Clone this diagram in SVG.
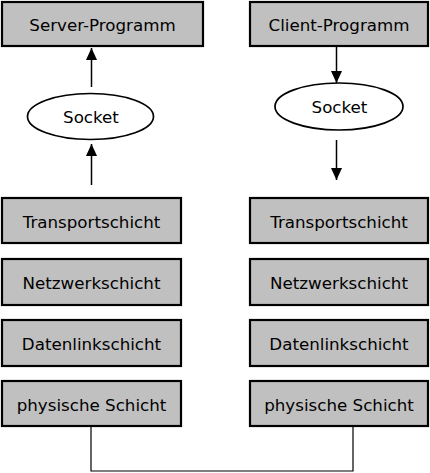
<svg xmlns="http://www.w3.org/2000/svg" width="430" height="473" viewBox="0 0 430 473">
<style>
.box{fill:#c0c0c0;stroke:#000;stroke-width:2.2}
.ell{fill:#fff;stroke:#000;stroke-width:1.7}
.t{font-family:"DejaVu Sans",Verdana,sans-serif;font-size:16.7px;fill:#000;text-anchor:middle}
.arr{stroke:#000;stroke-width:1.5;fill:none}
.wire{stroke:#000;stroke-width:1.2;fill:none}
</style>
<defs>
<marker id="ah" markerUnits="userSpaceOnUse" markerWidth="12" markerHeight="14" viewBox="0 0 13 12" refX="13" refY="6" orient="auto">
<path d="M0,0 L13,6 L0,12 Z" fill="#000"/>
</marker>
</defs>
<rect width="430" height="473" fill="#fff"/>
<g id="connectors">
<line class="arr" x1="91.5" y1="87" x2="91.5" y2="48" marker-end="url(#ah)"/>
<line class="arr" x1="91.5" y1="185" x2="91.5" y2="144" marker-end="url(#ah)"/>
<line class="arr" x1="336.5" y1="47" x2="336.5" y2="83" marker-end="url(#ah)"/>
<line class="arr" x1="336.5" y1="140" x2="336.5" y2="180" marker-end="url(#ah)"/>
<polyline class="wire" points="91,426 91,471 353,471 353,426"/>
</g>
<g id="server-programm"><rect class="box" x="2" y="2" width="201" height="44"/><text class="t" x="102.5" y="31">Server-Programm</text></g>
<g id="client-programm"><rect class="box" x="250" y="2" width="178" height="44"/><text class="t" x="339" y="31">Client-Programm</text></g>
<g id="socket-server"><ellipse class="ell" cx="90.5" cy="116.5" rx="63" ry="23"/><text class="t" x="91" y="123">Socket</text></g>
<g id="socket-client"><ellipse class="ell" cx="339" cy="106.5" rx="64" ry="23.5"/><text class="t" x="339.5" y="113">Socket</text></g>
<g id="transport-l"><rect class="box" x="2" y="198" width="179" height="45"/><text class="t" x="91.5" y="228">Transportschicht</text></g>
<g id="netzwerk-l"><rect class="box" x="2" y="259" width="179" height="46"/><text class="t" x="91.5" y="289">Netzwerkschicht</text></g>
<g id="datenlink-l"><rect class="box" x="2" y="320" width="179" height="46"/><text class="t" x="91.5" y="350">Datenlinkschicht</text></g>
<g id="physisch-l"><rect class="box" x="2" y="381" width="179" height="45"/><text class="t" x="91.5" y="411">physische Schicht</text></g>
<g id="transport-r"><rect class="box" x="250" y="198" width="178" height="45"/><text class="t" x="339" y="228">Transportschicht</text></g>
<g id="netzwerk-r"><rect class="box" x="250" y="259" width="178" height="46"/><text class="t" x="339" y="289">Netzwerkschicht</text></g>
<g id="datenlink-r"><rect class="box" x="250" y="320" width="178" height="46"/><text class="t" x="339" y="350">Datenlinkschicht</text></g>
<g id="physisch-r"><rect class="box" x="250" y="381" width="178" height="45"/><text class="t" x="339" y="411">physische Schicht</text></g>
</svg>
